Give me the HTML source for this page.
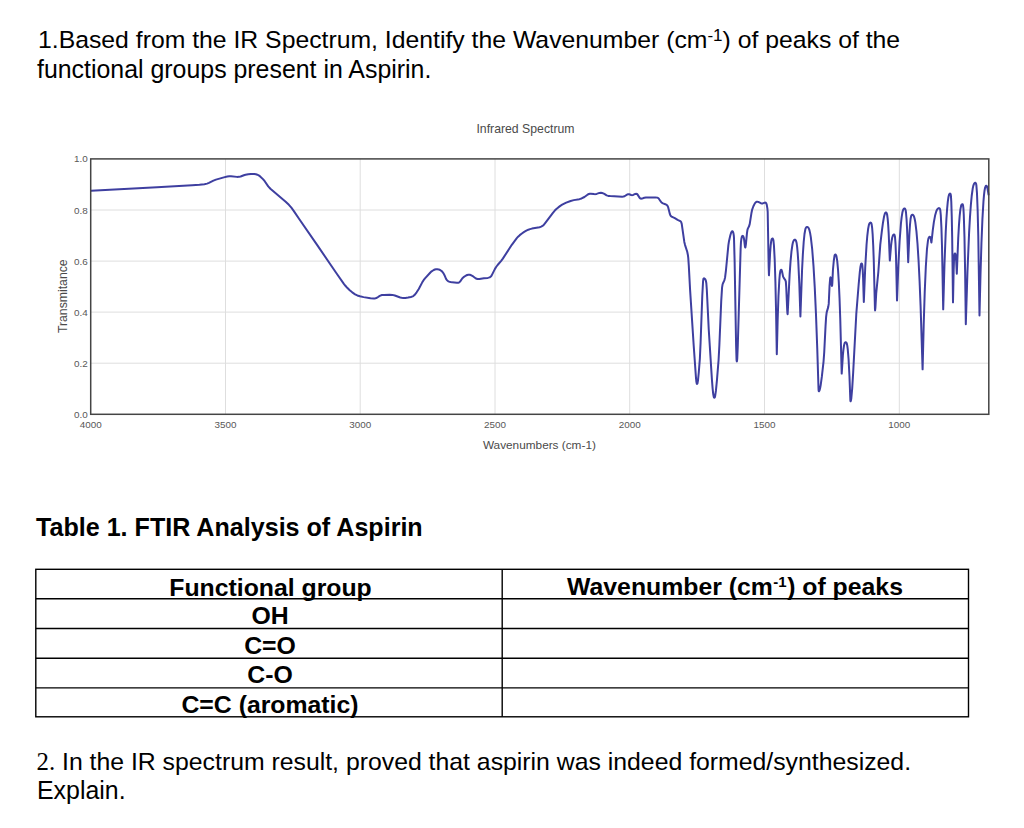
<!DOCTYPE html>
<html><head><meta charset="utf-8">
<style>
html,body{margin:0;padding:0;background:#fff;}
body{width:1024px;height:828px;position:relative;overflow:hidden;font-family:"Liberation Sans",sans-serif;color:#000;}
.t{position:absolute;white-space:nowrap;line-height:1;}
.q{font-size:24.9px;}
sup{font-size:17px;position:relative;top:-6.6px;vertical-align:baseline;line-height:0;margin-left:0px;}
.hs{font-size:15px;top:-8.2px;margin-left:0.5px;margin-right:0.5px;}
svg{position:absolute;left:0;top:0;}
table{position:absolute;border-collapse:collapse;}
</style></head><body>
<div class="t q" style="left:38px;top:28px;font-size:24.78px">1.Based from the IR Spectrum, Identify the Wavenumber (cm<sup>-1</sup>) of peaks of the</div>
<div class="t q" style="left:37px;top:57px">functional groups present in Aspirin.</div>

<svg width="1024" height="828" viewBox="0 0 1024 828">
<g stroke="#dedede" stroke-width="1"><line x1="90.7" y1="363.2" x2="988.8" y2="363.2"/><line x1="90.7" y1="312.1" x2="988.8" y2="312.1"/><line x1="90.7" y1="261.1" x2="988.8" y2="261.1"/><line x1="90.7" y1="210.0" x2="988.8" y2="210.0"/><line x1="225.5" y1="158.9" x2="225.5" y2="414.3"/><line x1="360.2" y1="158.9" x2="360.2" y2="414.3"/><line x1="495.0" y1="158.9" x2="495.0" y2="414.3"/><line x1="629.7" y1="158.9" x2="629.7" y2="414.3"/><line x1="764.5" y1="158.9" x2="764.5" y2="414.3"/><line x1="899.3" y1="158.9" x2="899.3" y2="414.3"/></g>
<g font-family="Liberation Sans" font-size="9.9" fill="#585858"><text x="87.7" y="417.8" text-anchor="end">0.0</text><text x="87.7" y="366.7" text-anchor="end">0.2</text><text x="87.7" y="315.6" text-anchor="end">0.4</text><text x="87.7" y="264.6" text-anchor="end">0.6</text><text x="87.7" y="213.5" text-anchor="end">0.8</text><text x="87.7" y="162.4" text-anchor="end">1.0</text><text x="90.7" y="428.3" text-anchor="middle">4000</text><text x="225.5" y="428.3" text-anchor="middle">3500</text><text x="360.2" y="428.3" text-anchor="middle">3000</text><text x="495.0" y="428.3" text-anchor="middle">2500</text><text x="629.7" y="428.3" text-anchor="middle">2000</text><text x="764.5" y="428.3" text-anchor="middle">1500</text><text x="899.3" y="428.3" text-anchor="middle">1000</text></g>
<text x="525.5" y="132.8" font-family="Liberation Sans" font-size="12.25" fill="#4a4a4a" text-anchor="middle">Infrared Spectrum</text>
<text x="539.4" y="448.5" font-family="Liberation Sans" font-size="11.8" fill="#4a4a4a" text-anchor="middle">Wavenumbers (cm-1)</text>
<text transform="translate(66.8,296.2) rotate(-90)" font-family="Liberation Sans" font-size="12.25" fill="#4a4a4a" text-anchor="middle">Transmitance</text>
<path d="M91.11 190.67 L157.02 187.36 192.21 185.31 199.43 184.76 204.40 184.18 207.08 183.63 208.95 182.93 213.41 180.69 215.96 179.66 223.88 177.35 227.28 176.55 229.26 176.30 231.00 176.26 236.96 176.88 238.94 176.86 240.63 176.50 243.86 175.20 245.53 174.68 248.23 174.19 250.96 173.90 254.19 173.97 255.91 174.28 257.33 174.71 258.67 175.34 259.90 176.18 262.97 179.10 264.71 181.23 268.23 186.38 270.40 188.79 285.67 201.71 288.90 204.84 291.36 207.66 293.87 211.09 299.01 218.78 317.77 245.92 336.10 272.76 343.87 283.80 345.41 285.77 347.23 287.83 349.72 290.28 352.23 292.34 355.11 294.33 357.32 295.46 359.93 296.31 363.59 297.12 370.51 298.21 373.73 298.51 375.20 298.41 376.36 298.06 377.44 297.47 379.70 295.94 381.03 295.32 382.22 295.04 383.95 294.88 389.70 294.72 392.43 294.90 394.84 295.50 400.25 297.44 401.70 297.77 403.19 297.93 405.43 297.89 408.15 297.55 410.84 296.97 412.71 296.33 413.56 295.85 414.50 295.06 416.63 292.31 418.77 288.94 422.50 281.87 423.60 280.20 425.00 278.44 430.37 272.52 431.63 271.33 433.73 270.02 434.88 269.54 436.07 269.24 437.28 269.17 438.72 269.43 440.09 270.00 441.33 270.80 442.54 272.02 443.68 273.65 444.49 275.19 446.05 278.86 447.03 280.25 447.97 281.02 449.05 281.59 450.46 282.04 452.18 282.37 456.89 282.82 458.10 282.73 458.98 282.44 459.56 282.07 460.23 281.40 462.21 278.55 463.57 277.12 466.07 275.50 467.20 275.01 468.39 274.73 469.82 274.79 471.21 275.26 472.93 276.23 475.90 278.46 477.47 279.01 479.42 278.99 483.86 278.30 487.84 277.89 489.70 277.39 490.84 276.55 491.71 275.38 494.84 269.12 496.11 266.98 497.61 264.99 501.18 260.81 502.84 258.61 511.82 244.78 516.60 238.37 518.09 236.68 519.74 235.16 521.90 233.47 524.17 231.91 526.33 230.66 528.36 229.71 530.01 229.11 531.94 228.60 539.55 227.20 541.20 226.65 542.49 225.94 543.62 224.98 544.77 223.68 552.72 213.08 554.79 210.58 556.39 209.01 558.29 207.39 560.29 205.89 562.18 204.67 566.19 202.64 570.63 200.96 573.77 200.13 579.43 199.16 581.56 198.48 584.43 196.99 587.83 194.49 588.90 193.93 589.82 193.70 590.79 193.67 593.99 194.10 595.46 194.13 596.65 193.90 599.43 192.91 600.87 192.79 602.08 192.99 603.24 193.39 604.34 193.95 606.60 195.41 608.22 195.91 610.20 196.10 622.18 196.64 623.40 196.55 624.55 196.22 627.00 194.64 628.07 194.21 629.18 194.24 631.17 194.99 632.29 195.14 633.18 194.93 635.31 193.89 636.15 193.76 636.74 193.91 637.43 194.42 639.68 197.87 640.35 198.45 640.94 198.66 642.02 198.58 644.28 197.74 645.97 197.45 655.46 197.41 657.37 197.63 657.99 197.91 658.70 198.49 660.71 201.56 661.72 202.60 662.98 203.31 665.98 204.46 666.77 204.99 667.41 205.68 667.87 206.52 668.28 207.68 669.92 214.21 670.41 215.32 670.97 216.08 672.12 216.93 674.83 218.16 677.62 219.78 680.24 221.04 680.75 221.49 681.14 222.05 681.73 223.88 684.31 241.94 685.07 245.10 687.23 251.75 687.88 254.93 688.26 257.90 688.80 265.63 690.11 290.10 693.64 344.73 695.95 377.40 696.38 381.88 696.79 383.74 697.07 383.97 697.42 383.47 698.01 380.20 698.79 372.24 699.86 358.78 700.59 342.80 702.28 295.83 703.07 281.10 703.40 279.02 703.63 278.54 703.97 278.33 704.38 278.41 704.95 278.90 705.46 279.67 705.91 280.80 706.34 283.25 706.79 289.23 708.73 329.18 711.92 379.58 712.61 388.30 713.22 394.02 713.74 396.88 714.03 397.54 714.30 397.72 714.49 397.66 714.75 397.33 715.14 396.09 715.93 390.66 716.92 380.46 718.56 360.28 719.37 345.30 721.21 301.34 722.06 287.62 722.58 284.43 723.00 283.27 724.38 280.36 725.11 277.21 725.95 270.26 728.38 245.13 729.03 240.93 730.34 235.33 730.97 233.18 731.53 231.88 732.13 231.24 732.61 231.28 733.09 232.02 733.46 233.39 733.81 235.61 734.00 238.10 734.62 261.09 736.11 345.82 736.50 358.82 736.65 360.87 736.85 361.40 737.08 360.47 737.27 358.06 737.77 346.07 740.62 249.11 740.95 242.37 741.44 238.41 741.83 236.77 742.29 235.99 742.64 235.86 742.88 235.95 743.41 236.69 743.77 237.81 744.15 239.76 745.02 247.01 745.21 247.51 745.40 247.27 745.86 244.66 746.97 233.22 747.42 230.01 747.85 228.60 749.17 225.97 749.67 224.32 751.51 212.71 752.17 209.54 753.38 206.26 754.85 203.38 755.95 202.14 756.53 201.81 757.16 201.68 758.26 201.87 760.83 203.24 761.94 203.54 762.83 203.45 764.71 202.66 765.45 202.60 765.76 202.73 766.16 203.13 766.73 204.62 767.38 208.31 767.70 211.79 768.65 266.53 768.95 275.33 770.15 252.06 770.65 245.58 771.20 241.12 771.52 239.69 771.95 238.76 772.40 238.46 772.63 238.51 772.94 238.85 773.24 239.62 773.48 240.80 773.95 245.52 774.70 259.75 775.41 281.99 776.07 311.73 776.80 354.17 777.66 319.68 778.47 295.95 779.34 279.72 779.80 274.49 780.28 271.30 780.54 270.43 780.90 269.84 781.21 269.73 781.59 270.06 782.00 271.26 783.10 276.61 783.74 277.91 785.31 280.04 785.83 281.64 786.23 287.11 787.22 310.34 787.45 313.48 787.65 314.27 789.64 274.35 790.54 261.38 791.45 251.68 792.39 245.00 792.86 242.80 793.38 241.15 793.96 240.17 794.72 239.69 795.35 239.84 795.96 240.63 796.55 242.73 797.14 246.93 797.71 253.16 798.26 261.39 799.30 283.37 800.40 316.47 802.04 270.43 802.86 254.20 803.70 241.98 804.50 234.02 805.36 229.11 805.88 227.78 806.41 227.15 807.08 226.91 807.79 227.14 808.65 228.14 809.38 229.96 810.08 232.87 810.80 237.06 812.19 249.23 813.51 266.18 814.76 287.64 815.97 314.11 817.25 348.34 818.52 389.06 818.66 390.81 818.81 391.15 819.01 391.18 819.58 390.17 820.09 388.29 820.65 385.34 821.88 376.43 823.54 361.52 824.21 352.55 825.54 326.08 826.10 317.10 826.68 312.39 828.20 307.12 828.73 303.92 829.52 286.44 830.12 278.74 830.39 277.50 830.54 277.38 830.74 277.74 831.74 285.27 831.93 285.88 832.10 285.62 832.32 283.20 832.94 269.97 833.82 260.51 834.54 255.61 834.92 254.71 835.25 254.48 835.48 254.50 836.03 255.10 836.43 256.17 837.22 260.83 838.02 269.55 838.79 282.02 839.53 298.25 840.24 318.49 841.70 373.60 842.87 355.46 843.42 349.74 843.96 345.78 844.54 343.39 845.19 342.34 845.61 342.16 846.17 342.37 846.52 342.82 846.86 343.67 847.28 345.60 847.74 349.07 848.56 359.03 849.45 376.01 850.34 399.96 850.43 400.97 850.61 401.33 850.97 400.43 851.35 398.03 852.20 388.32 853.18 372.35 856.28 314.19 858.72 283.78 859.80 272.08 860.48 266.63 861.06 264.08 861.39 263.54 861.75 263.53 862.05 264.06 862.33 265.39 862.69 269.61 863.05 276.85 863.82 301.94 865.21 267.69 866.58 244.23 867.30 235.76 868.06 229.30 868.84 225.13 869.21 223.96 869.63 223.15 870.16 222.64 870.74 222.60 871.22 223.06 871.61 224.09 872.14 227.78 872.66 234.51 873.22 245.50 873.76 260.24 874.96 308.95 875.09 310.39 875.41 307.62 876.21 293.39 878.33 272.00 880.28 244.57 881.79 231.66 882.98 222.74 883.99 216.82 884.90 213.49 885.32 212.77 885.83 212.44 886.22 212.53 886.65 213.09 887.17 214.90 887.66 218.61 888.18 224.84 888.70 233.57 889.81 260.57 891.04 245.95 891.60 241.23 892.19 237.78 892.88 235.44 893.33 234.72 893.72 234.43 894.11 234.43 894.54 234.89 894.97 236.64 895.50 243.62 896.01 256.36 897.01 300.47 898.34 265.93 899.60 241.21 900.96 223.26 901.66 217.05 902.37 212.61 902.84 210.67 903.27 209.54 903.88 208.68 904.47 208.44 905.02 208.70 905.41 209.39 905.71 210.54 905.99 212.51 906.56 219.23 907.10 229.47 908.20 262.18 909.39 233.97 909.97 224.99 910.56 219.02 911.10 216.11 911.46 215.29 911.83 214.86 912.45 214.69 913.08 215.01 913.61 215.69 914.10 216.79 914.70 218.95 915.30 222.14 916.42 231.07 917.50 243.78 918.56 260.49 919.58 280.97 920.57 305.45 922.60 369.37 923.71 324.40 924.73 291.91 925.82 266.69 926.96 249.23 927.94 240.79 928.40 238.60 928.92 237.33 929.29 236.93 929.69 236.79 930.07 236.96 930.39 237.39 930.80 238.70 931.31 242.31 931.38 242.56 931.45 242.49 932.76 230.37 933.86 222.19 935.08 215.56 936.31 211.24 937.03 209.67 937.91 208.57 938.79 208.12 939.29 208.18 939.58 208.36 940.01 209.02 940.30 210.15 940.79 215.11 941.42 227.60 942.02 247.09 943.20 309.37 944.49 263.99 945.74 231.77 946.39 219.28 947.07 209.31 947.76 201.84 948.47 196.89 948.94 194.97 949.41 193.98 950.00 193.54 950.23 193.60 950.51 193.94 950.76 194.71 950.95 196.15 951.31 202.39 951.75 216.38 952.17 237.12 953.00 302.37 953.65 270.44 953.98 260.94 954.32 255.46 954.60 253.94 954.96 253.47 955.20 253.62 955.41 254.05 955.73 255.62 956.22 261.59 956.81 273.75 958.23 238.05 958.93 225.57 959.65 216.09 960.36 209.63 961.12 205.73 961.56 204.69 962.15 204.15 962.61 204.30 963.01 205.14 963.38 208.05 963.76 214.53 964.47 237.02 965.12 271.77 965.81 324.27 967.47 271.36 969.10 232.65 969.96 217.42 970.83 205.20 971.72 195.75 972.66 188.81 973.33 185.63 974.00 183.80 974.77 182.86 975.21 182.74 975.61 182.92 976.07 183.75 976.36 185.16 976.97 193.13 977.64 210.12 978.27 235.61 979.50 315.58 980.50 274.36 981.44 243.38 982.43 218.90 983.46 201.43 983.99 195.20 984.55 190.48 985.11 187.55 985.72 186.12 986.07 185.81 986.43 185.78 986.76 186.07 987.10 186.79 987.48 188.44 988.51 194.60" fill="none" stroke="#3e3fa0" stroke-width="2" stroke-linejoin="round" stroke-linecap="round"/>
<rect x="90.7" y="158.9" width="898.1" height="255.4" fill="none" stroke="#444" stroke-width="1.5"/>
</svg>

<div class="t" style="left:36px;top:515px;font-size:25.1px;font-weight:bold">Table 1. FTIR Analysis of Aspirin</div>

<svg width="1024" height="828" viewBox="0 0 1024 828">
<g stroke="#000" stroke-width="1.4" fill="none">
<rect x="35.8" y="569.3" width="932.7" height="147.5"/>
<line x1="502.2" y1="569.3" x2="502.2" y2="716.8"/>
<line x1="35.8" y1="598.8" x2="968.5" y2="598.8"/>
<line x1="35.8" y1="628.5" x2="968.5" y2="628.5"/>
<line x1="35.8" y1="658.2" x2="968.5" y2="658.2"/>
<line x1="35.8" y1="687.9" x2="968.5" y2="687.9"/>
</g>
</svg>
<div class="t" style="left:37.5px;top:575.5px;width:466px;text-align:center;font-size:24.8px;font-weight:bold">Functional group</div>
<div class="t" style="left:502px;top:575px;width:466px;text-align:center;font-size:24.8px;font-weight:bold">Wavenumber (cm<sup class="hs">-1</sup>) of peaks</div>
<div class="t" style="left:37px;top:604px;width:466px;text-align:center;font-size:24.8px;font-weight:bold">OH</div>
<div class="t" style="left:37px;top:634px;width:466px;text-align:center;font-size:24.8px;font-weight:bold">C=O</div>
<div class="t" style="left:37px;top:663px;width:466px;text-align:center;font-size:24.8px;font-weight:bold">C-O</div>
<div class="t" style="left:37px;top:693px;width:466px;text-align:center;font-size:24.8px;font-weight:bold">C=C (aromatic)</div>

<div class="t q" style="left:36.5px;top:749.8px;font-size:24.8px"><span style="font-family:'Liberation Serif',serif">2.</span> In the IR spectrum result, proved that aspirin was indeed formed/synthesized.</div>
<div class="t q" style="left:37px;top:777.9px">Explain.</div>
</body></html>
